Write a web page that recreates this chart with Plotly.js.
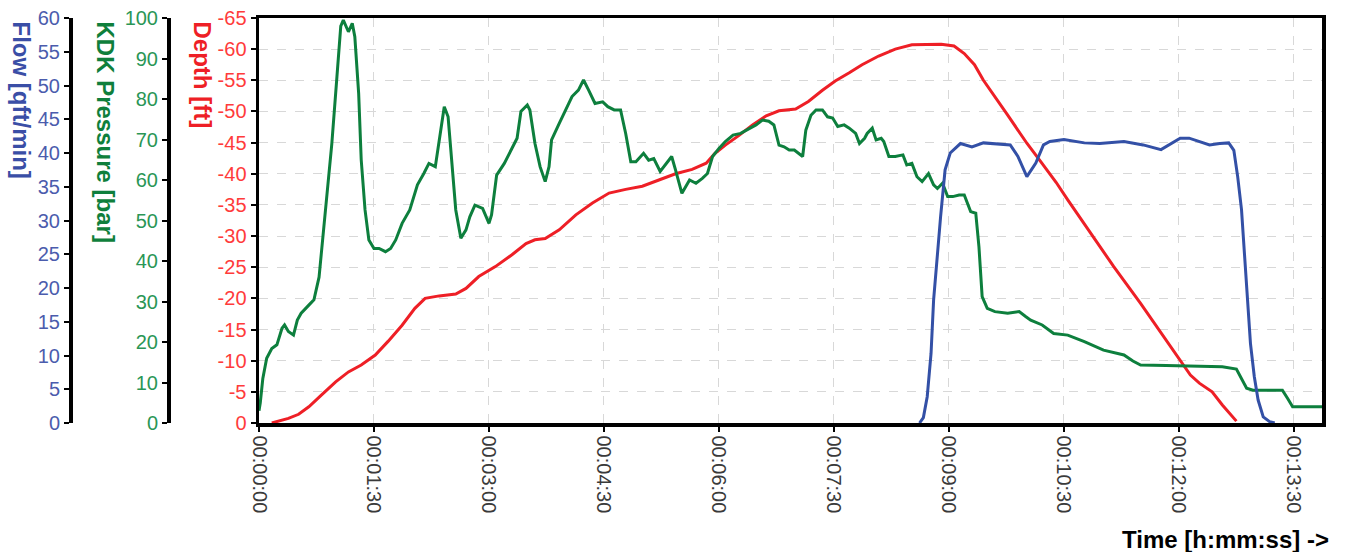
<!DOCTYPE html>
<html>
<head>
<meta charset="utf-8">
<script src="https://cdn.plot.ly/plotly-3.0.1.min.js"></script>
<style>
  html, body { margin: 0; padding: 0; background: #ffffff; }
  #chart { width: 1346px; height: 552px; }
</style>
</head>
<body>
<div id="chart"></div>
<script>
// ---- Data (time in seconds) ----
const pressureTime = [0,1,3,6,10,14,18,20,23,27,30,33,39,43,47,49,53,57,61,64,66,68,70,73,75,78,80,83,86,90,94,99,103,107,112,118,124,129,133,138,142,145,148,151,154,158,162,165,169,175,180,182,186,192,199,202,205,210,212,216,220,224,227,229,235,240,245,250,254,258,263,269,273,278,283,287,291,295,301,305,309,314,318,323,326,331,337,342,347,351,355,360,365,371,377,382,389,394,399,403,407,411,415,419,423,425.5,428,432,436,441,445,449,453,458,462,467,470,474,476,480,483,487,489,493,498,504,507,511,515,519,524,528,531,535,539,543,548,552,557,561,563.5,566,570,576,586,595,600,604,613,622,633,646,661,677,684,690,710,736,754,765,769,773,778,788,801,805,809,820,832];
const pressure = [3,5,11,16,18.4,19.3,23.4,24.2,22.6,21.7,25.4,27.1,29.1,30.4,36,42.7,56,69,85.5,98,99.5,98,96.6,98.7,95.4,81.4,65,52.6,45.2,43.1,43.1,42.3,43.1,45.2,49.3,52.6,58.8,61.6,64.1,63.3,72.3,78.1,75.6,65,52.6,45.6,47.7,50.9,53.8,53,49.3,51.4,61.2,64.1,68.2,70.3,76.9,78.5,77.3,69,63.3,59.6,63.3,69.9,74,77.3,80.6,82.2,84.7,82.2,78.9,79.3,78.1,77.3,77.3,71.5,64.5,64.5,66.6,64.9,65.3,62.1,63.7,65.8,62.5,56.7,60,59.2,60.4,61.6,65.8,67.8,69.5,71.1,71.5,72.3,73.6,74.8,74.5,73.6,68.6,68.2,67.4,67.4,66.5,65.8,72.3,76,77.3,77.3,75.6,75.3,73.2,73.6,72.8,71.5,69,70.3,71.5,72.8,69.9,70.3,69.5,65.8,65.8,66.2,63.7,64.1,60.8,59.6,61.6,58.8,57.9,59.2,55.9,55.9,56.3,56.3,52.2,51.8,43.5,31.2,28.3,27.5,27.1,27.5,26.3,25.4,24.2,22.1,21.7,20.1,18,16.8,15.3,14.3,14.2,14.1,13.9,13.3,11,8.6,8.1,8.1,8.1,6.1,4,4,4];

const depthTime = [10,23,31,39,49,60,70,80,91,101,112,122,130,141,154,162,172,185,198,209,216,224,235,248,261,274,287,300,313,326,339,350,357,365,376,386,397,407,420,430,441,451,462,472,485,498,511,524,534,544,552,560,567,586,601,612,624,633,651,669,690,711,721.5,729,736,746,754,765];
const depth = [0,-0.75,-1.4,-2.6,-4.5,-6.6,-8.2,-9.3,-10.9,-13.1,-15.7,-18.4,-20,-20.4,-20.7,-21.6,-23.5,-25.1,-27,-28.8,-29.4,-29.6,-31,-33.4,-35.3,-36.9,-37.5,-38,-39,-40,-40.7,-41.7,-43.3,-44.6,-46.2,-47.8,-49.3,-50.1,-50.4,-51.6,-53.4,-54.9,-56.2,-57.5,-58.9,-60,-60.7,-60.8,-60.8,-60.5,-59.3,-57.5,-55,-49.4,-44.9,-41.9,-38.6,-35.8,-30.4,-25.1,-19.2,-13,-9.8,-7.7,-6.4,-5,-2.9,-0.3];

const flowTime = [517,520,523,526,528,531,533.5,537,541,549,558,567,579,588,594,601,608,614,619,630,646,658,677,692,706,712,721,728,736,744,752,759,763,766,769,771,774,776,779,782,786,791,795];
const flow = [0,0.8,3.9,10.3,18.2,25.1,30.6,37.5,40,41.4,40.9,41.5,41.3,41.2,39.5,36.5,38.5,41.2,41.7,42,41.5,41.4,41.7,41.2,40.5,41.2,42.2,42.2,41.7,41.2,41.4,41.5,40.4,36.5,31.6,25.6,18.2,11.8,6.9,3.4,0.9,0.2,0];

// ---- Tick labels ----
const timeTickVals = [0,90,180,270,360,450,540,630,720,810];
const timeTickText = ["00:00:00","00:01:30","00:03:00","00:04:30","00:06:00","00:07:30","00:09:00","00:10:30","00:12:00","00:13:30"];
const depthTickVals = [0,-5,-10,-15,-20,-25,-30,-35,-40,-45,-50,-55,-60,-65];
const depthTickText = ["0","-5","-10","-15","-20","-25","-30","-35","-40","-45","-50","-55","-60","-65"];

// ---- Styling ----
const W = 1346, H = 552;
const M = {l: 0, r: 24, t: 18, b: 129};
const PW = W - M.l - M.r;      // paper width in px
const PH = H - M.t - M.b;      // paper height in px
const px = v => (v - M.l) / PW;
const py = v => (H - M.b - v) / PH;

const FONT = "Liberation Sans, Arial, sans-serif";
const tickFont = (c) => ({family: FONT, size: 20, color: c});
const titleFont = {family: FONT, size: 24};

const traces = [
  {x: depthTime, y: depth, type: "scatter", mode: "lines", name: "Depth",
   line: {color: "#ee1f26", width: 3}, xaxis: "x", yaxis: "y", hoverinfo: "skip"},
  {x: pressureTime, y: pressure, type: "scatter", mode: "lines", name: "KDK Pressure",
   line: {color: "#0d7f3d", width: 3}, xaxis: "x", yaxis: "y2", hoverinfo: "skip"},
  {x: flowTime, y: flow, type: "scatter", mode: "lines", name: "Flow",
   line: {color: "#3350a6", width: 3}, xaxis: "x", yaxis: "y3", hoverinfo: "skip"}
];

const commonAxis = {
  showline: true, linecolor: "#000", linewidth: 3.5,
  ticks: "outside", ticklen: 5, tickwidth: 2, tickcolor: "#000",
  zeroline: false, fixedrange: true
};

const layout = {
  width: W, height: H,
  margin: {l: M.l, r: M.r, t: M.t, b: M.b, pad: 0},
  paper_bgcolor: "#ffffff", plot_bgcolor: "#ffffff",
  showlegend: false,
  xaxis: Object.assign({}, commonAxis, {
    domain: [px(259), 1],
    range: [0, 832],
    tickmode: "array", tickvals: timeTickVals, ticktext: timeTickText,
    tickangle: 90, tickfont: tickFont("#3a3a3a"),
    mirror: true,
    showgrid: true, gridcolor: "#d8d8d8", gridwidth: 1, griddash: "dash"
  }),
  yaxis: Object.assign({}, commonAxis, {
    range: [0, -65],
    tickmode: "array", tickvals: depthTickVals, ticktext: depthTickText,
    tickfont: tickFont("#ff3b3b"),
    mirror: true,
    showgrid: true, gridcolor: "#d8d8d8", gridwidth: 1, griddash: "dash"
  }),
  yaxis2: Object.assign({}, commonAxis, {
    overlaying: "y", anchor: "free", position: px(168), side: "left",
    range: [0, 100], dtick: 10, tickmode: "linear", tick0: 0,
    tickfont: tickFont("#2a9656"), showgrid: false
  }),
  yaxis3: Object.assign({}, commonAxis, {
    overlaying: "y", anchor: "free", position: px(70), side: "left",
    range: [0, 60], dtick: 5, tickmode: "linear", tick0: 0,
    tickfont: tickFont("#4b5cad"), showgrid: false
  }),
  annotations: [
    {text: "<b>Flow [qft/min]</b>", xref: "paper", yref: "paper", x: px(21), y: py(19),
     xanchor: "center", yanchor: "top", textangle: 90, showarrow: false,
     font: Object.assign({}, titleFont, {color: "#3a4ea6"})},
    {text: "<b>KDK Pressure [bar]</b>", xref: "paper", yref: "paper", x: px(105), y: py(19),
     xanchor: "center", yanchor: "top", textangle: 90, showarrow: false,
     font: Object.assign({}, titleFont, {color: "#0f7f3c"})},
    {text: "<b>Depth [ft]</b>", xref: "paper", yref: "paper", x: px(202), y: py(19),
     xanchor: "center", yanchor: "top", textangle: 90, showarrow: false,
     font: Object.assign({}, titleFont, {color: "#ee1f26"})},
    {text: "<b>Time [h:mm:ss] -&gt;</b>", xref: "paper", yref: "paper", x: px(1331), y: py(539),
     xanchor: "right", yanchor: "middle", showarrow: false,
     font: Object.assign({}, titleFont, {color: "#000000"})}
  ]
};

Plotly.newPlot("chart", traces, layout, {displayModeBar: false, staticPlot: true});
</script>
</body>
</html>
